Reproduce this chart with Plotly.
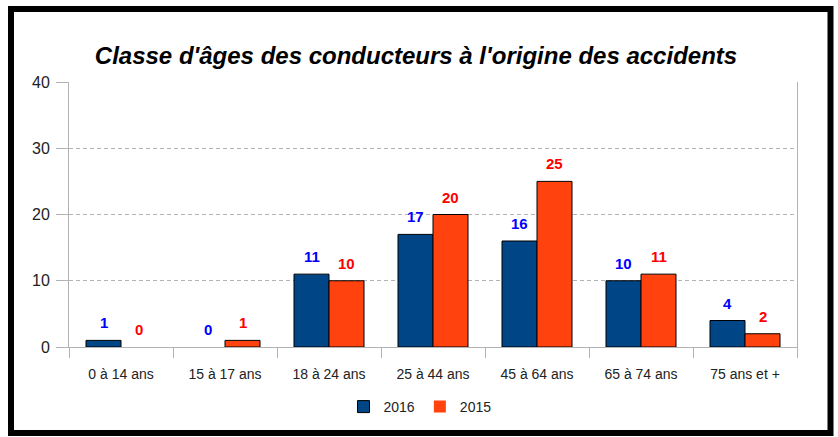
import plotly.graph_objects as go

categories = ["0 à 14 ans", "15 à 17 ans", "18 à 24 ans", "25 à 44 ans", "45 à 64 ans", "65 à 74 ans", "75 ans et +"]
values_2016 = [1, 0, 11, 17, 16, 10, 4]
values_2015 = [0, 1, 10, 20, 25, 11, 2]
y_ticks = [0, 10, 20, 30, 40]
title_text = "Classe d'âges des conducteurs à l'origine des accidents"

W, H = 838, 437
L, R, T, B = 69, 797, 82, 347
pw, ph = R - L, B - T

def px_x(p):
    return (p - L) / pw

def px_y(p):
    return (B - p) / ph

FONT = "Liberation Sans, Arial, sans-serif"

def outline(vals):
    return [0 if v == 0 else 1 for v in vals]

fig = go.Figure()
fig.add_trace(go.Bar(name="2016", x=categories, y=values_2016,
                     marker=dict(color="#004586", line=dict(color="#000000", width=outline(values_2016)))))
fig.add_trace(go.Bar(name="2015", x=categories, y=values_2015,
                     marker=dict(color="#ff420e", line=dict(color="#000000", width=outline(values_2015)))))

half = 17.5
annotations = []
for vals, shift, col in [(values_2016, -half, "#0000ff"), (values_2015, half, "#ff0000")]:
    for c, v in zip(categories, vals):
        annotations.append(dict(x=c, y=v, xref="x", yref="y", text=f"<b>{v}</b>",
                                showarrow=False, xshift=shift, yshift=7, yanchor="bottom",
                                font=dict(family=FONT, size=15, color=col)))

fig.update_layout(
    width=W, height=H,
    margin=dict(l=L, r=W - R, t=T, b=H - B, pad=0),
    paper_bgcolor="white", plot_bgcolor="white",
    barmode="group", bargap=0.327, bargroupgap=0,
    font=dict(family=FONT, size=14, color="#222222"),
    title=dict(text=f"<b><i>{title_text}</i></b>", xref="paper", x=px_x(416), xanchor="center",
               yref="container", y=1 - 56 / H, yanchor="middle",
               font=dict(family=FONT, size=24, color="#000000")),
    showlegend=True,
    legend=dict(orientation="h", xref="paper", x=px_x(420), xanchor="center",
                yref="paper", y=px_y(407), yanchor="middle",
                itemwidth=30, font=dict(family=FONT, size=14, color="#222222"),
                bgcolor="rgba(0,0,0,0)"),
    annotations=annotations,
    xaxis=dict(type="category", showline=True, linecolor="#b3b3b3", linewidth=1,
               ticks="outside", tickson="boundaries", ticklen=10, tickcolor="#b3b3b3",
               ticklabelstandoff=14,
               showgrid=False, tickfont=dict(family=FONT, size=14, color="#222222"),
               zeroline=False, fixedrange=True),
    yaxis=dict(range=[0, 40], tickvals=y_ticks, showline=True, mirror=True,
               linecolor="#b3b3b3", linewidth=1, ticks="outside", ticklen=12,
               tickcolor="#b3b3b3", showgrid=True, gridcolor="#b3b3b3",
               griddash="4px,3px", gridwidth=1, zeroline=False, fixedrange=True,
               ticklabelstandoff=3,
               tickfont=dict(family=FONT, size=16, color="#222222")),
    shapes=[dict(type="rect", xref="paper", yref="paper",
                 x0=px_x(11), x1=px_x(830.5), y0=px_y(433), y1=px_y(9),
                 line=dict(color="#000000", width=6), fillcolor="rgba(0,0,0,0)", layer="above")],
)

fig.write_html("out.html", config={"displayModeBar": False},
               post_script="document.body.style.margin='0';document.body.style.overflow='hidden';")
